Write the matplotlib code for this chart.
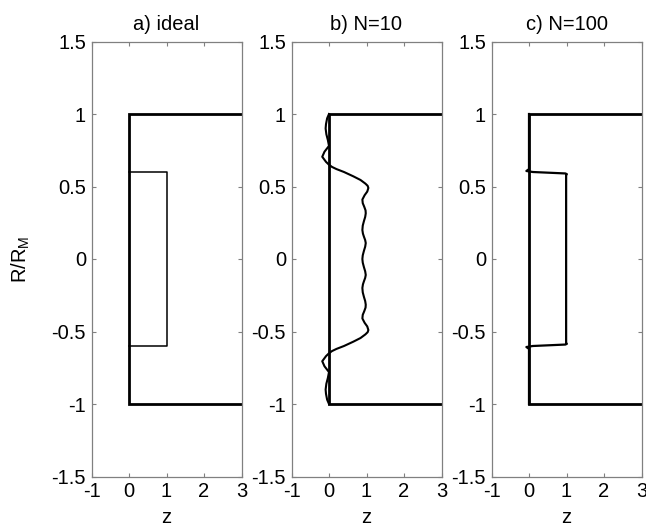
import numpy as np
import matplotlib
matplotlib.use("Agg")
import matplotlib.pyplot as plt

plt.rcParams['font.family'] = ['Liberation Sans', 'DejaVu Sans']
plt.rcParams['axes.unicode_minus'] = False

# outer electrode boundary (same in every panel)
outer_z = [3, 0, 0, 3]
outer_R = [1, 1, -1, -1]

# a) ideal inner profile
ideal_z = [0, 1, 1, 0]
ideal_R = [0.6, 0.6, -0.6, -0.6]

# b) N=10 reconstruction from top to bottom
n10_R = [1.0, 0.97, 0.93, 0.90, 0.86, 0.82, 0.78, 0.74, 0.705, 0.67,
         0.65, 0.635, 0.62, 0.60, 0.57, 0.545, 0.52, 0.505, 0.49, 0.465,
         0.44, 0.41, 0.385, 0.36, 0.335, 0.315, 0.29, 0.26, 0.23, 0.20,
         0.175, 0.155, 0.13, 0.11, 0.085, 0.055, 0.025, 0.0,
         -0.025, -0.055, -0.085, -0.11, -0.13, -0.155, -0.175, -0.20, -0.23, -0.26,
         -0.29, -0.315, -0.335, -0.36, -0.385, -0.41, -0.44, -0.465, -0.49, -0.505,
         -0.52, -0.545, -0.57, -0.60, -0.62, -0.635, -0.65, -0.67, -0.705, -0.74,
         -0.78, -0.82, -0.86, -0.90, -0.93, -0.97, -1.0]
n10_z = [0.0, -0.05, -0.08, -0.09, -0.07, -0.03, 0.0, -0.12, -0.18, -0.08,
         0.0, 0.08, 0.2, 0.4, 0.65, 0.84, 0.97, 1.03, 1.05, 1.02,
         0.95, 0.89, 0.90, 0.94, 0.975, 0.98, 0.965, 0.93, 0.90, 0.89,
         0.905, 0.93, 0.965, 0.98, 0.965, 0.93, 0.90, 0.89,
         0.90, 0.93, 0.965, 0.98, 0.965, 0.93, 0.905, 0.89, 0.90, 0.93,
         0.965, 0.98, 0.975, 0.94, 0.90, 0.89, 0.95, 1.02, 1.05, 1.03,
         0.97, 0.84, 0.65, 0.4, 0.2, 0.08, 0.0, -0.08, -0.18, -0.12,
         0.0, -0.03, -0.07, -0.09, -0.08, -0.05, 0.0]

# c) N=100 reconstruction
n100_R = [1.0, 0.8, 0.62, 0.607, 0.60, 0.59, 0.585, 0.58, 0.0, -0.58, -0.585,
          -0.59, -0.60, -0.607, -0.62, -0.8, -1.0]
n100_z = [0.0, 0.0, 0.0, -0.07, 0.1, 0.97, 1.01, 0.99, 0.99, 0.99, 1.01,
          0.97, 0.1, -0.07, 0.0, 0.0, 0.0]

titles = ['a) ideal', 'b) N=10', 'c) N=100']
inner = [(ideal_z, ideal_R, 1.1), (n10_z, n10_R, 1.5), (n100_z, n100_R, 1.6)]

fig = plt.figure(figsize=(6.46, 5.26), dpi=100)
lefts = [91.5 / 646, 291.5 / 646, 491.5 / 646]
for i, left in enumerate(lefts):
    ax = fig.add_axes([left, 49.5 / 526, 150 / 646, 435 / 526])
    ax.plot(outer_z, outer_R, color='black', lw=2.0, solid_joinstyle='miter')
    z, R, lw = inner[i]
    ax.plot(z, R, color='black', lw=lw, solid_joinstyle='round')
    ax.set_xlim(-1, 3)
    ax.set_ylim(-1.5, 1.5)
    ax.set_xticks([-1, 0, 1, 2, 3])
    ax.set_yticks([-1.5, -1, -0.5, 0, 0.5, 1, 1.5])
    ax.set_yticklabels(['-1.5', '-1', '-0.5', '0', '0.5', '1', '1.5'])
    ax.tick_params(direction='in', length=3.2, width=0.8, color='#808080',
                   top=True, right=True, labelsize=14.5, pad=4)
    for sp in ax.spines.values():
        sp.set_color('#808080')
        sp.set_linewidth(0.9)
    ax.set_title(titles[i], fontsize=14.5, pad=8)
    ax.set_xlabel('z', fontsize=14.5, labelpad=5)
    if i == 0:
        ax.set_ylabel('R/R$_\\mathregular{M}$', fontsize=14.5, labelpad=14)

fig.savefig('out.png', dpi=100)
